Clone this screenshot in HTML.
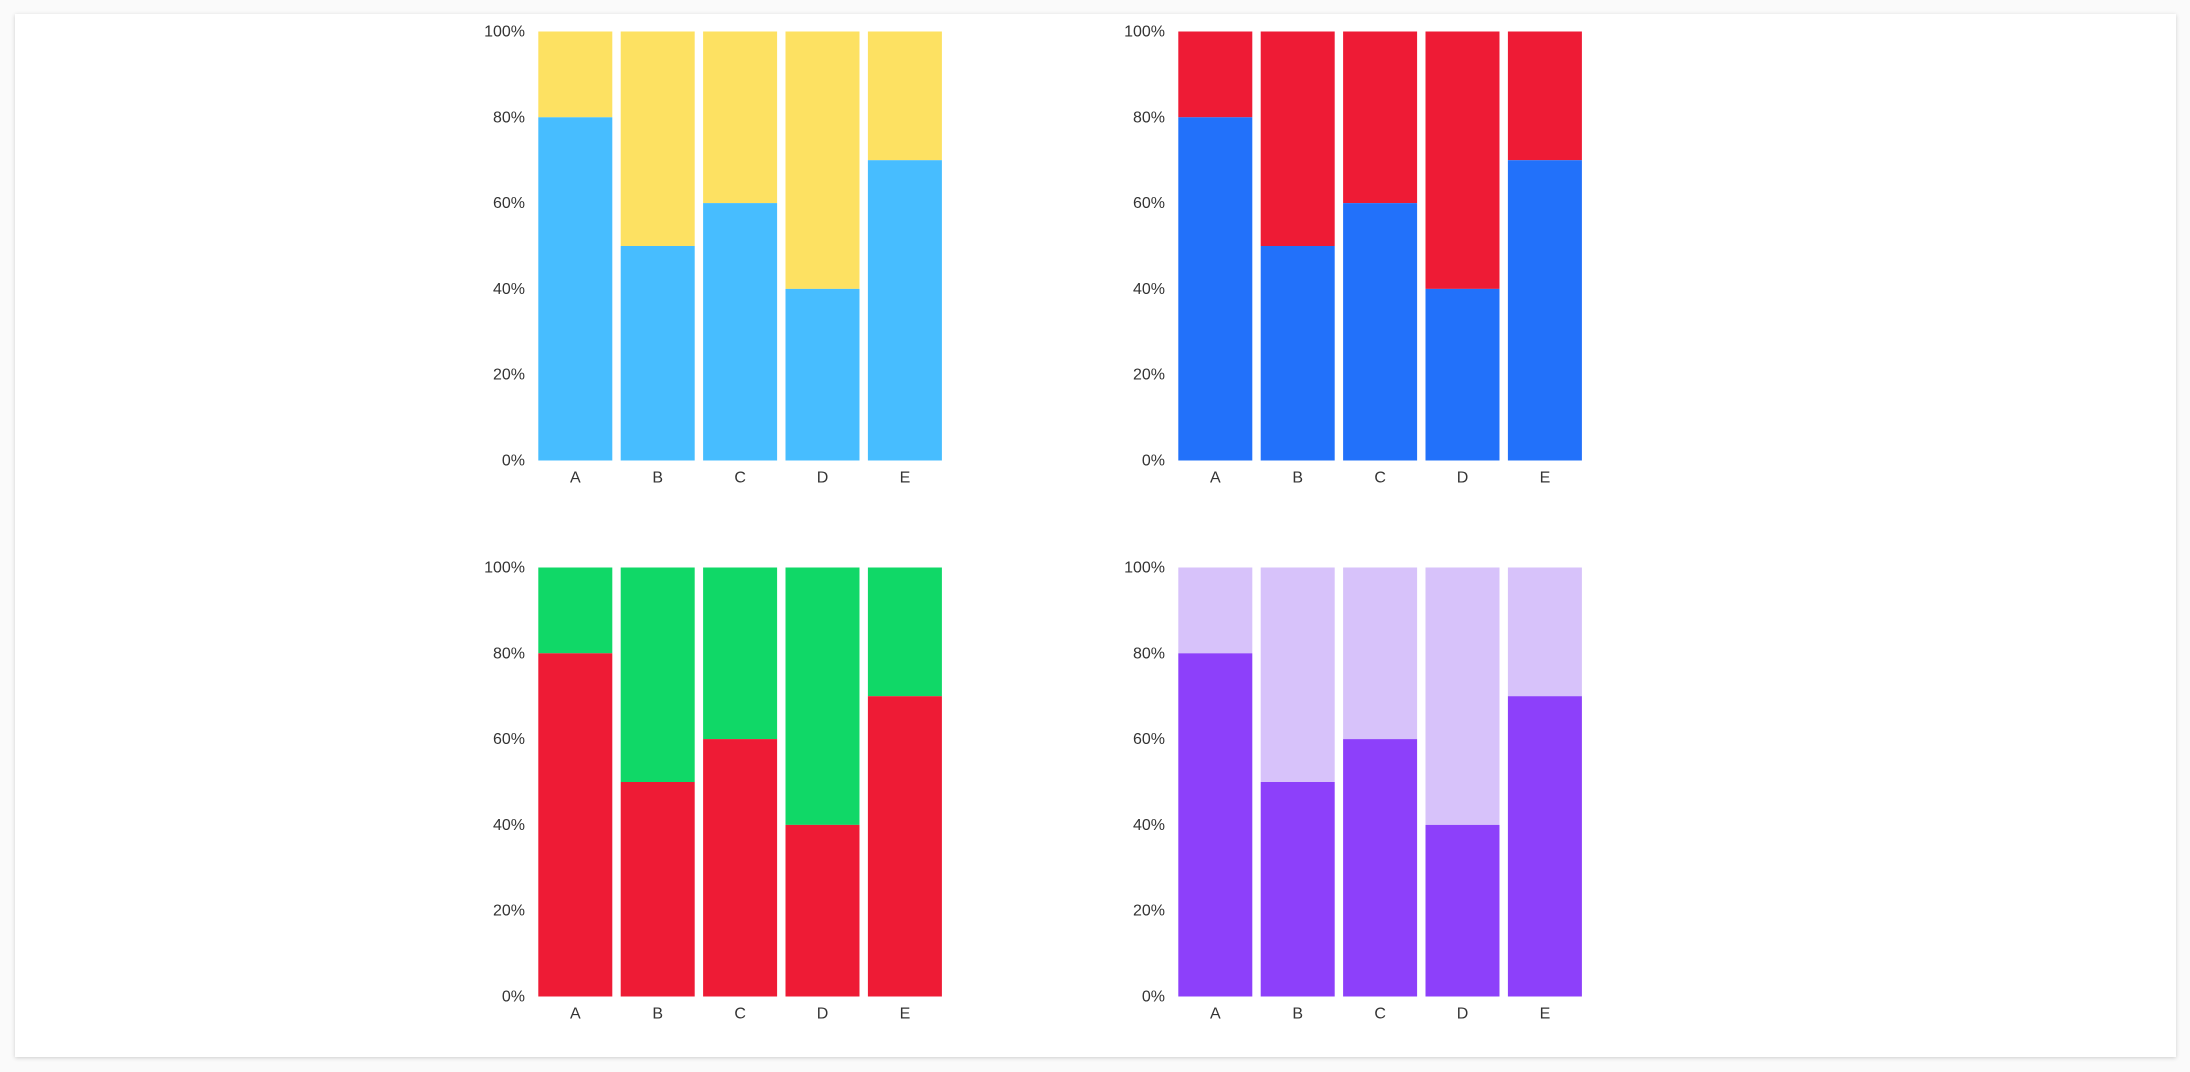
<!DOCTYPE html>
<html><head><meta charset="utf-8"><style>
html,body{margin:0;padding:0;background:#fafafa;}
body{width:2190px;height:1072px;position:relative;overflow:hidden;font-family:"Liberation Sans",sans-serif;}
#card{position:absolute;left:15px;top:14px;width:2161px;height:1043px;background:#fff;box-shadow:0 1px 4px rgba(0,0,0,0.18);}
svg{position:absolute;left:0;top:0;}
</style></head><body>
<div id="card"></div>
<svg id="svg" width="2190" height="1072"></svg>
<script>
const categories = ["A","B","C","D","E"];
const seriesBottom = [80,50,60,40,70];
const tickLabels = ["0%","20%","40%","60%","80%","100%"];
const tickValues = [0,20,40,60,80,100];
const panels = [
  {name:"top-left", dx:0, dy:0, c1:"#47BDFF", c2:"#FDE162"},
  {name:"top-right", dx:640, dy:0, c1:"#2271FA", c2:"#EE1B35"},
  {name:"bottom-left", dx:0, dy:536, c1:"#EE1B35", c2:"#10D867"},
  {name:"bottom-right", dx:640, dy:536, c1:"#8D40FA", c2:"#D7C2FA"}
];
const NS="http://www.w3.org/2000/svg";
const svg=document.getElementById('svg');
function mk(t,a,p){const e=document.createElementNS(NS,t);for(const k in a)e.setAttribute(k,a[k]);(p||svg).appendChild(e);return e;}
const X0=538.3, PITCH=82.4, BW=74, TOP=31.5, BOT=460.5;
panels.forEach(p=>{
  const g=mk('g',{transform:`translate(${p.dx},${p.dy})`});
  
  
  const y=v=>BOT-(v/100)*(BOT-TOP);
  const x=i=>X0+i*PITCH;
  tickValues.forEach((v,i)=>{
    const t=mk('text',{x:525,y:y(v)+5,'text-anchor':'end','font-size':16,fill:'#333'},g);
    t.textContent=tickLabels[i];
    
    
  });
  categories.forEach((c,i)=>{
    const v=seriesBottom[i];
    const r2=mk('rect',{x:x(i),y:y(100),width:BW,height:y(v)-y(100),fill:p.c2},g);
    
    
    const r1=mk('rect',{x:x(i),y:y(v),width:BW,height:y(0)-y(v),fill:p.c1},g);
    
    
    const t=mk('text',{x:x(i)+BW/2,y:BOT+22,'text-anchor':'middle','font-size':16,fill:'#333'},g);
    t.textContent=c;
    
    
  });
});
</script>
</body></html>
